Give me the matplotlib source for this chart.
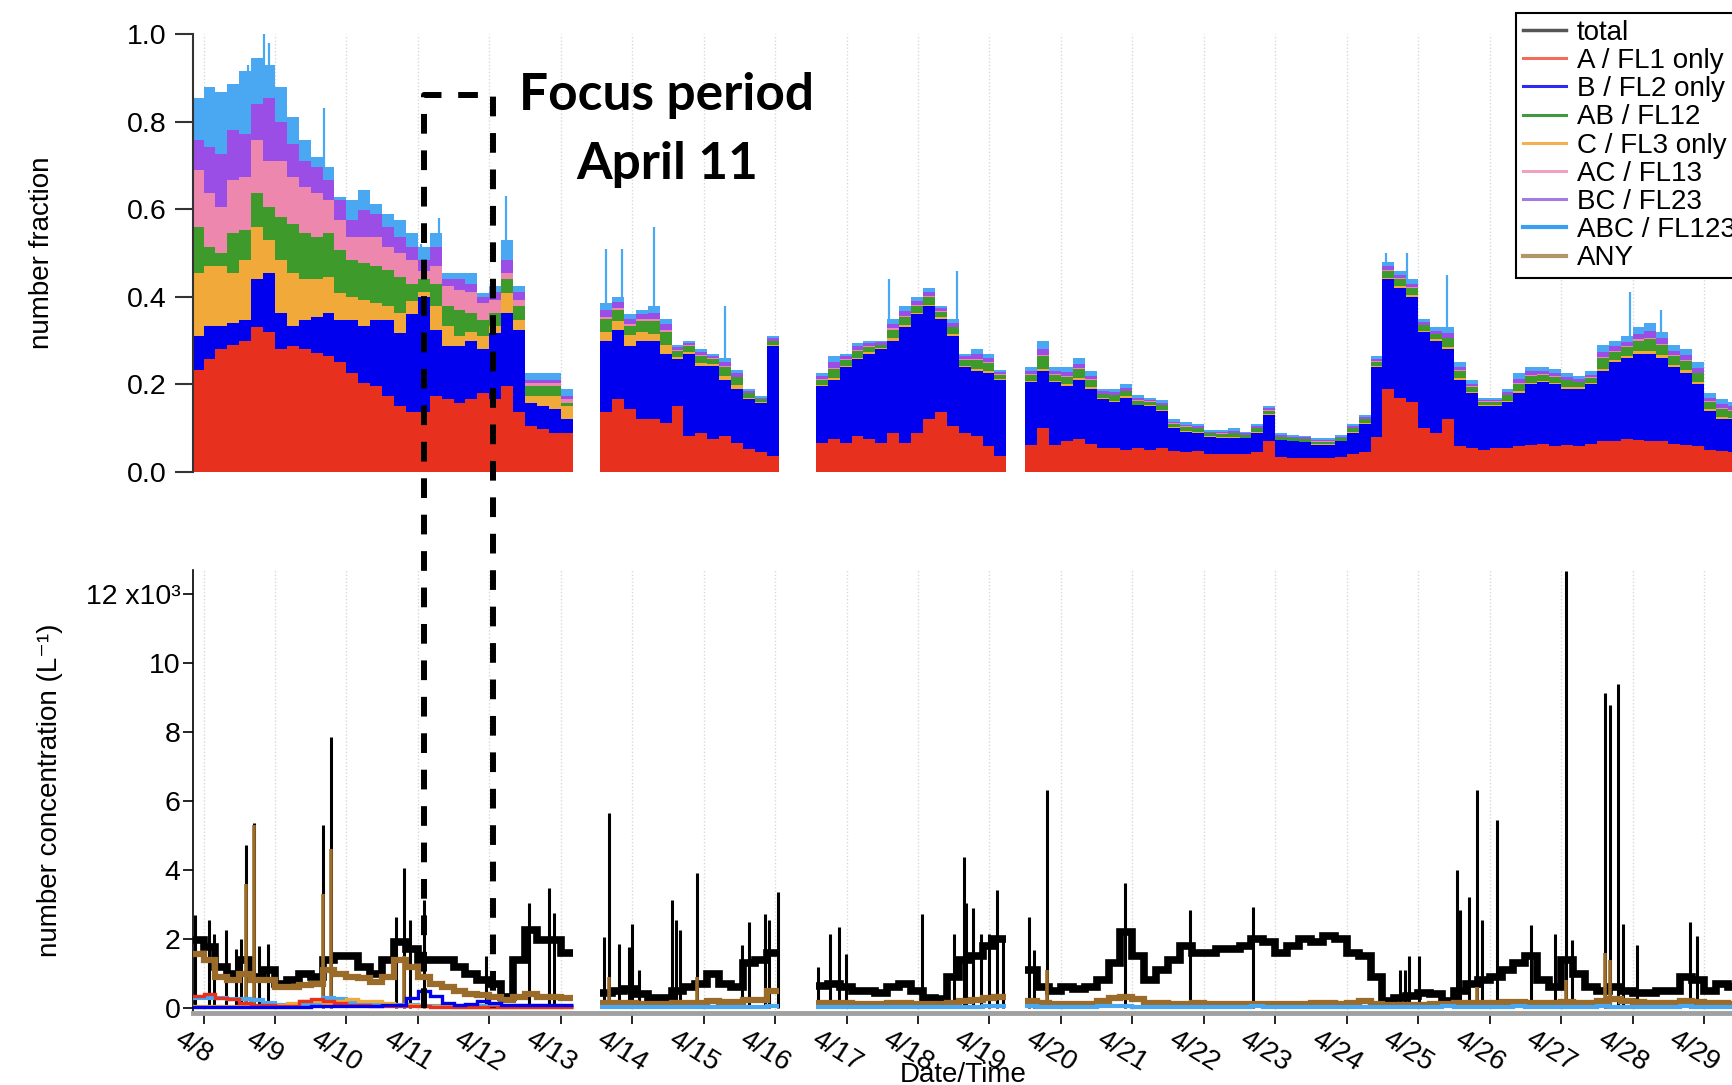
import numpy as np
import matplotlib.pyplot as plt
import matplotlib.transforms as mtransforms
from matplotlib.lines import Line2D

plt.rcParams['font.family'] = ['Liberation Sans', 'DejaVu Sans']

# time axis: days since 4/8 00:00, data in 4-hour bins, four measurement segments
seg_start = [-1/6, 5.55, 8.57, 11.5]
seg_bins = [32, 15, 16, 60]
bin_w = 1/6
day_labels = ['4/%d' % d for d in range(8, 30)]

# ---- number fraction per category (stacked, top panel) ----
frac_A = [
    0.234, 0.257, 0.28, 0.29, 0.30, 0.33, 0.32, 0.28, 0.287, 0.28, 0.272, 0.264, 0.25, 0.227, 0.204, 0.196,
    0.173, 0.15, 0.136, 0.136, 0.173, 0.166, 0.158, 0.166, 0.18, 0.166, 0.196, 0.136, 0.105, 0.098, 0.09, 0.09,
    0.136, 0.166, 0.143, 0.12, 0.12, 0.113, 0.15, 0.083, 0.09, 0.075, 0.083, 0.067, 0.052, 0.045, 0.037,
    0.067, 0.075, 0.067, 0.083, 0.075, 0.067, 0.09, 0.067, 0.09, 0.12, 0.136, 0.105, 0.09, 0.083, 0.06, 0.037,
    0.062, 0.10, 0.062, 0.07, 0.075, 0.065, 0.054, 0.054, 0.05, 0.054, 0.05, 0.054, 0.047, 0.045, 0.047,
    0.04, 0.042, 0.04, 0.04, 0.045, 0.07, 0.035, 0.032, 0.032, 0.032, 0.032, 0.034, 0.04, 0.045, 0.08,
    0.19, 0.17, 0.16, 0.10, 0.09, 0.12, 0.06, 0.054, 0.05, 0.054, 0.055, 0.06, 0.062, 0.064, 0.06,
    0.062, 0.06, 0.065, 0.07, 0.07, 0.075, 0.072, 0.07, 0.07, 0.065, 0.062, 0.06, 0.05, 0.047, 0.045]
frac_B = [
    0.076, 0.076, 0.053, 0.05, 0.048, 0.11, 0.134, 0.083, 0.046, 0.068, 0.083, 0.099, 0.098, 0.121, 0.129, 0.152,
    0.175, 0.168, 0.224, 0.264, 0.152, 0.121, 0.129, 0.134, 0.10, 0.152, 0.167, 0.189, 0.053, 0.052, 0.053, 0.03,
    0.164, 0.159, 0.144, 0.18, 0.18, 0.157, 0.107, 0.187, 0.152, 0.167, 0.127, 0.123, 0.114, 0.113, 0.25,
    0.129, 0.135, 0.173, 0.174, 0.195, 0.213, 0.21, 0.263, 0.27, 0.258, 0.214, 0.205, 0.15, 0.147, 0.167, 0.173,
    0.143, 0.13, 0.143, 0.127, 0.135, 0.125, 0.113, 0.106, 0.12, 0.098, 0.10, 0.086, 0.053, 0.047, 0.043,
    0.04, 0.035, 0.038, 0.037, 0.045, 0.06, 0.037, 0.038, 0.036, 0.03, 0.03, 0.036, 0.05, 0.065, 0.16,
    0.25, 0.25, 0.24, 0.22, 0.21, 0.16, 0.15, 0.126, 0.10, 0.096, 0.105, 0.12, 0.138, 0.141, 0.14,
    0.128, 0.13, 0.135, 0.16, 0.18, 0.185, 0.198, 0.20, 0.19, 0.175, 0.165, 0.14, 0.09, 0.075, 0.075]
frac_C = [
    0.144, 0.137, 0.137, 0.114, 0.136, 0.12, 0.076, 0.121, 0.121, 0.092, 0.085, 0.083, 0.06, 0.052, 0.06, 0.038,
    0.03, 0.045, 0.03, 0.01, 0.053, 0.046, 0.023, 0.02, 0.03, 0.015, 0.045, 0.023, 0.015, 0.023, 0.03, 0.03,
    0.02, 0.02, 0.025, 0.02, 0.015, 0.02, 0.005, 0.004, 0.006, 0.004, 0.01, 0.008, 0.004, 0.002, 0.002,
    0.003, 0.005, 0.003, 0.004, 0.003, 0.002, 0.005, 0.005, 0.004, 0.004, 0.003, 0.004, 0.003, 0.005, 0.004, 0.002,
    0.003, 0.006, 0.003, 0.004, 0.005, 0.004, 0.002, 0.003, 0.003, 0.002, 0.002, 0.002, 0.002, 0.002, 0.002,
    0.002, 0.002, 0.002, 0.001, 0.002, 0.002, 0.002, 0.001, 0.001, 0.001, 0.001, 0.001, 0.002, 0.002, 0.002,
    0.004, 0.004, 0.004, 0.003, 0.003, 0.005, 0.004, 0.003, 0.002, 0.002, 0.003, 0.004, 0.004, 0.003, 0.003,
    0.004, 0.003, 0.003, 0.006, 0.005, 0.005, 0.006, 0.006, 0.006, 0.005, 0.005, 0.005, 0.004, 0.004, 0.004]
frac_AB = [
    0.106, 0.044, 0.03, 0.091, 0.068, 0.076, 0.075, 0.099, 0.113, 0.105, 0.097, 0.099, 0.099, 0.084, 0.084, 0.084,
    0.083, 0.083, 0.04, 0.03, 0.052, 0.045, 0.06, 0.043, 0.038, 0.03, 0.032, 0.03, 0.023, 0.023, 0.023, 0.008,
    0.03, 0.025, 0.022, 0.025, 0.03, 0.03, 0.015, 0.014, 0.016, 0.012, 0.02, 0.018, 0.01, 0.006, 0.01,
    0.012, 0.02, 0.012, 0.015, 0.012, 0.008, 0.02, 0.018, 0.016, 0.017, 0.012, 0.016, 0.012, 0.02, 0.017, 0.01,
    0.014, 0.028, 0.014, 0.017, 0.02, 0.016, 0.009, 0.012, 0.012, 0.009, 0.008, 0.01, 0.008, 0.009, 0.008,
    0.006, 0.008, 0.009, 0.006, 0.008, 0.008, 0.006, 0.006, 0.006, 0.006, 0.006, 0.006, 0.008, 0.008, 0.01,
    0.016, 0.016, 0.016, 0.012, 0.012, 0.02, 0.016, 0.012, 0.008, 0.008, 0.012, 0.018, 0.016, 0.014, 0.014,
    0.015, 0.012, 0.012, 0.024, 0.02, 0.02, 0.024, 0.028, 0.024, 0.02, 0.021, 0.02, 0.016, 0.018, 0.016]
frac_AC = [
    0.13, 0.122, 0.105, 0.121, 0.121, 0.121, 0.105, 0.127, 0.106, 0.105, 0.099, 0.075, 0.068, 0.053, 0.06, 0.067,
    0.053, 0.054, 0.054, 0.02, 0.04, 0.046, 0.046, 0.047, 0.038, 0.03, 0.014, 0.015, 0.008, 0.008, 0.008, 0.008,
    0.005, 0.005, 0.004, 0.004, 0.004, 0.004, 0.002, 0.002, 0.002, 0.002, 0.002, 0.002, 0.001, 0.001, 0.001,
    0.002, 0.003, 0.002, 0.002, 0.002, 0.001, 0.003, 0.003, 0.002, 0.002, 0.002, 0.002, 0.002, 0.003, 0.002, 0.001,
    0.002, 0.003, 0.002, 0.002, 0.002, 0.002, 0.001, 0.001, 0.001, 0.001, 0.001, 0.001, 0.001, 0.001, 0.001,
    0.001, 0.001, 0.001, 0.001, 0.001, 0.001, 0.001, 0.001, 0.001, 0.001, 0.001, 0.001, 0.001, 0.001, 0.001,
    0.002, 0.002, 0.002, 0.001, 0.001, 0.002, 0.002, 0.001, 0.001, 0.001, 0.001, 0.002, 0.002, 0.002, 0.002,
    0.002, 0.001, 0.001, 0.003, 0.002, 0.002, 0.003, 0.003, 0.003, 0.002, 0.003, 0.002, 0.002, 0.002, 0.002]
frac_BC = [
    0.067, 0.106, 0.122, 0.114, 0.099, 0.083, 0.145, 0.09, 0.077, 0.06, 0.06, 0.046, 0.045, 0.038, 0.061, 0.053,
    0.046, 0.037, 0.03, 0.024, 0.044, 0.016, 0.024, 0.02, 0.014, 0.017, 0.03, 0.017, 0.006, 0.006, 0.006, 0.007,
    0.015, 0.012, 0.012, 0.011, 0.014, 0.013, 0.006, 0.005, 0.007, 0.005, 0.009, 0.008, 0.004, 0.003, 0.005,
    0.007, 0.013, 0.007, 0.009, 0.007, 0.005, 0.011, 0.011, 0.009, 0.01, 0.007, 0.009, 0.007, 0.011, 0.01, 0.006,
    0.007, 0.014, 0.007, 0.009, 0.01, 0.008, 0.005, 0.006, 0.006, 0.005, 0.004, 0.005, 0.004, 0.004, 0.004,
    0.003, 0.004, 0.004, 0.003, 0.004, 0.004, 0.003, 0.003, 0.003, 0.003, 0.003, 0.003, 0.004, 0.004, 0.005,
    0.008, 0.008, 0.008, 0.006, 0.006, 0.01, 0.008, 0.006, 0.004, 0.004, 0.006, 0.009, 0.008, 0.007, 0.007,
    0.007, 0.006, 0.006, 0.012, 0.01, 0.01, 0.012, 0.014, 0.012, 0.01, 0.011, 0.01, 0.008, 0.009, 0.008]
frac_ABC = [
    0.098, 0.136, 0.14, 0.105, 0.144, 0.106, 0.075, 0.078, 0.06, 0.047, 0.024, 0.03, 0.008, 0.045, 0.045, 0.023,
    0.03, 0.038, 0.031, 0.03, 0.031, 0.014, 0.014, 0.024, 0.008, 0.014, 0.046, 0.014, 0.017, 0.017, 0.017, 0.017,
    0.015, 0.013, 0.01, 0.01, 0.015, 0.013, 0.005, 0.005, 0.007, 0.005, 0.009, 0.008, 0.005, 0.003, 0.005,
    0.007, 0.013, 0.006, 0.008, 0.006, 0.004, 0.011, 0.011, 0.009, 0.009, 0.006, 0.009, 0.006, 0.011, 0.01, 0.005,
    0.009, 0.019, 0.009, 0.011, 0.013, 0.01, 0.006, 0.008, 0.008, 0.006, 0.005, 0.007, 0.005, 0.006, 0.005,
    0.004, 0.004, 0.006, 0.004, 0.005, 0.005, 0.004, 0.003, 0.003, 0.004, 0.004, 0.004, 0.005, 0.005, 0.007,
    0.01, 0.01, 0.01, 0.008, 0.008, 0.013, 0.01, 0.008, 0.005, 0.005, 0.008, 0.012, 0.01, 0.009, 0.009,
    0.009, 0.008, 0.008, 0.015, 0.013, 0.013, 0.015, 0.019, 0.015, 0.013, 0.013, 0.013, 0.01, 0.012, 0.01]

# short peaks of the stacked total
frac_spike_t = [0.62, 0.84, 0.92, 1.68, 3.05, 3.30, 4.24, 5.64, 5.86, 6.30, 7.30, 9.60, 10.55,
                16.55, 16.85, 17.40, 19.96, 20.40]
frac_spike_v = [0.93, 1.0, 0.98, 0.83, 0.52, 0.58, 0.63, 0.51, 0.51, 0.56, 0.38, 0.44, 0.46,
                0.50, 0.50, 0.45, 0.41, 0.37]

# ---- number concentration, 10^3 per litre (bottom panel) ----
conc_total = [
    1.97, 1.78, 1.2, 1.0, 1.4, 0.9, 1.1, 0.7, 0.8, 1.0, 0.9, 1.4, 1.5, 1.5, 1.2, 1.0,
    1.4, 1.9, 1.7, 1.4, 1.4, 1.4, 1.2, 1.0, 0.8, 0.7, 0.33, 1.4, 2.26, 1.97, 1.97, 1.6,
    0.45, 0.5, 0.55, 0.4, 0.3, 0.3, 0.5, 0.6, 0.7, 1.0, 0.7, 0.6, 1.3, 1.4, 1.6,
    0.65, 0.7, 0.6, 0.5, 0.5, 0.45, 0.6, 0.7, 0.5, 0.3, 0.25, 0.9, 1.4, 1.5, 1.8, 2.0,
    1.1, 0.6, 0.5, 0.6, 0.55, 0.6, 0.8, 1.3, 2.2, 1.5, 0.8, 1.1, 1.4, 1.8, 1.6,
    1.6, 1.7, 1.7, 1.8, 2.0, 1.9, 1.6, 1.8, 2.0, 1.9, 2.1, 2.0, 1.6, 1.5, 0.9,
    0.2, 0.3, 0.35, 0.45, 0.4, 0.2, 0.5, 0.7, 0.8, 0.9, 1.1, 1.3, 1.5, 0.8, 0.6,
    1.4, 1.0, 0.6, 0.5, 0.6, 0.5, 0.45, 0.45, 0.5, 0.5, 0.9, 0.8, 0.5, 0.7, 0.6]
conc_any = [
    1.58, 1.4, 0.9, 0.8, 1.0, 0.8, 0.8, 0.6, 0.6, 0.67, 0.7, 1.1, 1.0, 0.9, 0.86, 0.76,
    0.9, 1.4, 1.2, 0.9, 0.7, 0.6, 0.5, 0.42, 0.38, 0.33, 0.23, 0.33, 0.42, 0.33, 0.33, 0.28,
    0.14, 0.15, 0.14, 0.13, 0.12, 0.12, 0.14, 0.15, 0.16, 0.2, 0.18, 0.17, 0.23, 0.23, 0.5,
    0.14, 0.15, 0.14, 0.13, 0.12, 0.12, 0.14, 0.15, 0.13, 0.12, 0.11, 0.15, 0.2, 0.22, 0.28, 0.33,
    0.2, 0.15, 0.13, 0.13, 0.12, 0.13, 0.2, 0.3, 0.33, 0.25, 0.15, 0.14, 0.13, 0.13, 0.14,
    0.13, 0.12, 0.12, 0.12, 0.13, 0.13, 0.12, 0.12, 0.13, 0.14, 0.14, 0.13, 0.15, 0.2, 0.12,
    0.08, 0.08, 0.08, 0.1, 0.12, 0.12, 0.14, 0.15, 0.15, 0.16, 0.18, 0.18, 0.16, 0.15, 0.14,
    0.18, 0.16, 0.15, 0.2, 0.25, 0.2, 0.18, 0.15, 0.14, 0.14, 0.2, 0.18, 0.14, 0.14, 0.13]
conc_ABC = [
    0.3, 0.3, 0.28, 0.25, 0.25, 0.22, 0.15, 0.1, 0.08, 0.08, 0.08, 0.3, 0.25, 0.15, 0.1, 0.08,
    0.08, 0.1, 0.08, 0.07, 0.06, 0.05, 0.05, 0.05, 0.05, 0.05, 0.04, 0.05, 0.06, 0.06, 0.06, 0.05,
    0.04, 0.04, 0.03, 0.03, 0.04, 0.04, 0.03, 0.03, 0.04, 0.04, 0.03, 0.03, 0.04, 0.04, 0.05,
    0.04, 0.04, 0.03, 0.03, 0.04, 0.04, 0.03, 0.03, 0.04, 0.04, 0.03, 0.03, 0.04, 0.04, 0.05, 0.05,
    0.05, 0.04, 0.04, 0.03, 0.03, 0.04, 0.05, 0.06, 0.05, 0.04, 0.04, 0.03, 0.03, 0.04, 0.04,
    0.03, 0.03, 0.04, 0.04, 0.05, 0.04, 0.03, 0.03, 0.04, 0.04, 0.03, 0.03, 0.04, 0.04, 0.03,
    0.02, 0.02, 0.03, 0.03, 0.04, 0.05, 0.04, 0.04, 0.03, 0.03, 0.04, 0.05, 0.04, 0.03, 0.03,
    0.04, 0.04, 0.03, 0.05, 0.04, 0.04, 0.03, 0.03, 0.04, 0.04, 0.05, 0.04, 0.03, 0.03, 0.03]
# single-channel concentrations of the first segment (flat under ANY afterwards)
conc_A_seg1 = [0.35, 0.4, 0.3, 0.25, 0.15, 0.1, 0.1, 0.05, 0.05, 0.2, 0.25, 0.2, 0.15, 0.1, 0.1, 0.05,
               0.05, 0.05, 0.05, 0.05, 0.04, 0.04, 0.03, 0.03, 0.03, 0.03, 0.02, 0.02, 0.02, 0.02, 0.02, 0.02]
conc_B_seg1 = [0.03, 0.03, 0.03, 0.03, 0.03, 0.03, 0.03, 0.03, 0.03, 0.04, 0.05, 0.05, 0.05, 0.05, 0.06, 0.06,
               0.08, 0.1, 0.3, 0.5, 0.35, 0.15, 0.1, 0.12, 0.2, 0.15, 0.08, 0.1, 0.1, 0.08, 0.08, 0.08]
conc_C_seg1 = [0.05, 0.05, 0.05, 0.05, 0.05, 0.05, 0.06, 0.08, 0.15, 0.2, 0.2, 0.15, 0.2, 0.25, 0.2, 0.2,
               0.15, 0.1, 0.08, 0.06, 0.05, 0.05, 0.04, 0.04, 0.04, 0.04, 0.03, 0.03, 0.03, 0.03, 0.03, 0.03]

# short spikes of total and ANY
total_spike_t = [-0.12, 0.07, 0.14, 0.31, 0.46, 0.53, 0.59, 0.70, 0.78, 0.90, 1.67, 1.79, 2.70, 2.81, 2.89,
                 3.08, 3.96, 4.55, 4.83, 4.90,
                 5.60, 5.68, 5.81, 5.96, 6.00, 6.10, 6.55, 6.61, 6.67, 6.91, 7.53, 7.64, 7.86, 7.91, 8.04,
                 8.60, 8.77, 8.89, 8.99, 10.05, 10.51, 10.65, 10.67, 10.77, 10.88, 11.00, 11.11, 11.19,
                 11.55, 11.62, 11.81, 12.90, 13.80, 14.69, 16.75, 16.81, 16.87, 17.01, 17.55, 17.59, 17.71,
                 17.82, 17.89, 18.10, 18.58, 18.91, 19.07, 19.15, 19.61, 19.69, 19.79, 19.87, 20.06, 20.81, 20.90]
total_spike_v = [2.7, 2.55, 2.16, 2.26, 1.7, 2.0, 4.72, 5.35, 1.8, 1.87, 5.3, 7.86, 2.65, 4.05, 2.55,
                 3.13, 1.5, 3.03, 3.47, 2.75,
                 2.07, 5.64, 1.87, 1.78, 2.45, 1.1, 3.13, 2.55, 2.26, 3.9, 1.83, 2.5, 2.74, 2.55, 3.37,
                 1.2, 2.16, 2.36, 1.58, 2.74, 2.16, 4.39, 3.03, 2.89, 2.16, 2.16, 3.42, 2.07,
                 2.65, 1.68, 6.32, 3.61, 2.84, 2.94, 1.1, 1.1, 1.5, 1.5, 4.0, 2.84, 3.23,
                 6.32, 2.55, 5.45, 2.4, 2.16, 12.68, 1.97, 9.12, 8.78, 9.39, 2.45, 1.83, 2.5, 2.1]
any_spike_t = [0.59, 0.70, 1.67, 1.79, 2.81, 5.68, 6.91, 11.81, 17.82, 19.07, 19.61, 19.69]
any_spike_v = [3.6, 5.3, 3.3, 4.6, 1.5, 0.9, 0.9, 1.1, 0.6, 0.8, 1.6, 1.4]

focus_period = (3.086, 4.056)

# colours
c_A, c_B, c_AB, c_C = '#e8301f', '#0000ee', '#3e9a2b', '#f1a93a'
c_AC, c_BC, c_ABC = '#ee87ae', '#9a4ee6', '#4aa7f2'
c_any, c_total = '#9b6b2a', 'black'

FS = 20
W, H = 1733, 1085
fig = plt.figure(figsize=(W / 100, H / 100), dpi=100)
xlim = (-0.147, 21.406)

ax1 = fig.add_axes([193 / W, 1 - 472 / H, 1540 / W, 438 / H])
ax2 = fig.add_axes([193 / W, 1 - 1013.2 / H, 1540 / W, 443.3 / H])

cuts = np.cumsum(seg_bins)[:-1]
def segs(values):
    return np.split(np.asarray(values, dtype=float), cuts)

edges = [s + np.arange(n + 1) * bin_w for s, n in zip(seg_start, seg_bins)]

# ---- top panel: stacked fractions ----
layers = [frac_A, frac_B, frac_C, frac_AB, frac_AC, frac_BC, frac_ABC]
colors = [c_A, c_B, c_C, c_AB, c_AC, c_BC, c_ABC]
split_layers = [segs(v) for v in layers]
ax1.vlines(frac_spike_t, 0, frac_spike_v, color=c_ABC, lw=1.6, zorder=1)
for i, e in enumerate(edges):
    stack = np.cumsum(np.vstack([sl[i] for sl in split_layers]), axis=0)
    for j in reversed(range(len(layers))):
        ax1.stairs(stack[j], e, baseline=0, fill=True, color=colors[j], lw=0, zorder=2)

ax1.set_xlim(*xlim)
ax1.set_ylim(0, 1)
ax1.set_yticks(np.arange(0, 1.01, 0.2))
ax1.set_yticklabels(['%.1f' % v for v in np.arange(0, 1.01, 0.2)])
ax1.set_xticks(range(22))
ax1.tick_params(axis='x', bottom=False, labelbottom=False)
ax1.tick_params(axis='y', length=13, width=1.5, color='#333333', labelsize=FS + 0.5, pad=6)
for s in ['top', 'right', 'bottom']:
    ax1.spines[s].set_visible(False)
ax1.spines['left'].set_color('#333333')
ax1.spines['left'].set_linewidth(1.5)
ax1.set_ylabel('number fraction', fontsize=FS)
ax1.yaxis.set_label_coords(-0.098, 0.5)
ax1.yaxis.label.set_va('center')

# ---- bottom panel: concentrations ----
tot_s, any_s, abc_s = segs(conc_total), segs(conc_any), segs(conc_ABC)
ax2.vlines(total_spike_t, 0, total_spike_v, color=c_total, lw=2.2, zorder=2)
for i, e in enumerate(edges):
    ax2.stairs(tot_s[i], e, baseline=None, color=c_total, lw=5.5, zorder=2)
    ax2.stairs(any_s[i], e, baseline=None, color=c_any, lw=4.5, zorder=3)
    ax2.stairs(abc_s[i], e, baseline=None, color=c_ABC, lw=3, zorder=4)
ax2.vlines(any_spike_t, 0, any_spike_v, color=c_any, lw=2.6, zorder=3)
ax2.stairs(conc_C_seg1, edges[0], baseline=None, color=c_C, lw=2.4, zorder=4)
ax2.stairs(conc_A_seg1, edges[0], baseline=None, color=c_A, lw=2.4, zorder=4)
ax2.stairs(conc_B_seg1, edges[0], baseline=None, color=c_B, lw=2.4, zorder=4)

ax2.set_xlim(*xlim)
ax2.set_ylim(-0.15, 12.7)
ax2.set_yticks(range(0, 13, 2))
ax2.set_yticklabels(['0', '2', '4', '6', '8', '10', '12 x10\u00b3'])
ax2.set_xticks(range(22))
ax2.set_xticklabels(day_labels, rotation=-32, ha='center', va='top')
ax2.tick_params(axis='y', length=7, width=1.2, labelsize=FS + 0.5, pad=2)
ax2.tick_params(axis='x', length=8, width=1.2, labelsize=FS, pad=1)
shift = mtransforms.ScaledTranslation(-10 / 100, 0, fig.dpi_scale_trans)
for lab in ax2.get_xticklabels():
    lab.set_transform(lab.get_transform() + shift)
for s in ['top', 'right']:
    ax2.spines[s].set_visible(False)
ax2.spines['bottom'].set_color('#a0a0a0')
ax2.spines['bottom'].set_linewidth(3.5)
ax2.spines['left'].set_linewidth(1.2)
ax2.set_ylabel('number concentration (L\u207b\u00b9)', fontsize=FS)
ax2.yaxis.set_label_coords(-0.093, 0.503)
ax2.yaxis.label.set_va('center')
ax2.set_xlabel('Date/Time', fontsize=FS)
ax2.xaxis.set_label_coords(0.5, -0.139)
ax2.xaxis.label.set_va('center')

for ax in (ax1, ax2):
    ax.grid(axis='x', color='#d9d9d9', linestyle=(0, (1, 1.5)), lw=1)
    ax.set_axisbelow(True)

# ---- focus period box spanning both panels ----
inv = fig.transFigure.inverted()
x0, x1 = focus_period
pts = [ax2.transData.transform((x0, 0)), ax1.transData.transform((x0, 0.861)),
       ax1.transData.transform((x1, 0.861)), ax2.transData.transform((x1, 0))]
pts = inv.transform(np.array(pts))
fig.add_artist(Line2D(pts[:, 0], pts[:, 1], transform=fig.transFigure, color='black',
                      lw=4.3, linestyle=(0, (3.3, 2.8)), zorder=10))
fig.text(667 / W, 1 - 110 / H, 'Focus period', family='Lato', weight='bold', fontsize=37,
         ha='center', va='baseline')
fig.text(667 / W, 1 - 179 / H, 'April 11', family='Lato', weight='bold', fontsize=37,
         ha='center', va='baseline')

# ---- legend ----
handles = [Line2D([], [], color='#555555', lw=2.5),
           Line2D([], [], color='#f26b5b', lw=2.2),
           Line2D([], [], color='#2a2af0', lw=2.2),
           Line2D([], [], color='#3d9b3d', lw=2.2),
           Line2D([], [], color='#f4b050', lw=2.2),
           Line2D([], [], color='#f2a0c0', lw=2.2),
           Line2D([], [], color='#a47ae0', lw=2.2),
           Line2D([], [], color='#3a9ff0', lw=3),
           Line2D([], [], color='#b3956a', lw=3)]
labels = ['total', 'A / FL1 only', 'B / FL2 only', 'AB / FL12', 'C / FL3 only',
          'AC / FL13', 'BC / FL23', 'ABC / FL123', 'ANY']
leg = fig.legend(handles, labels, loc='upper left', bbox_to_anchor=(1516 / W, 1 - 12.7 / H),
                 fontsize=FS, frameon=True, fancybox=False, framealpha=1, edgecolor='black',
                 handlelength=1.55, handletextpad=0.4, borderpad=0.25, labelspacing=0.08,
                 borderaxespad=0)
leg.get_frame().set_linewidth(1.5)

fig.savefig('out.png', dpi=100, facecolor='white')
